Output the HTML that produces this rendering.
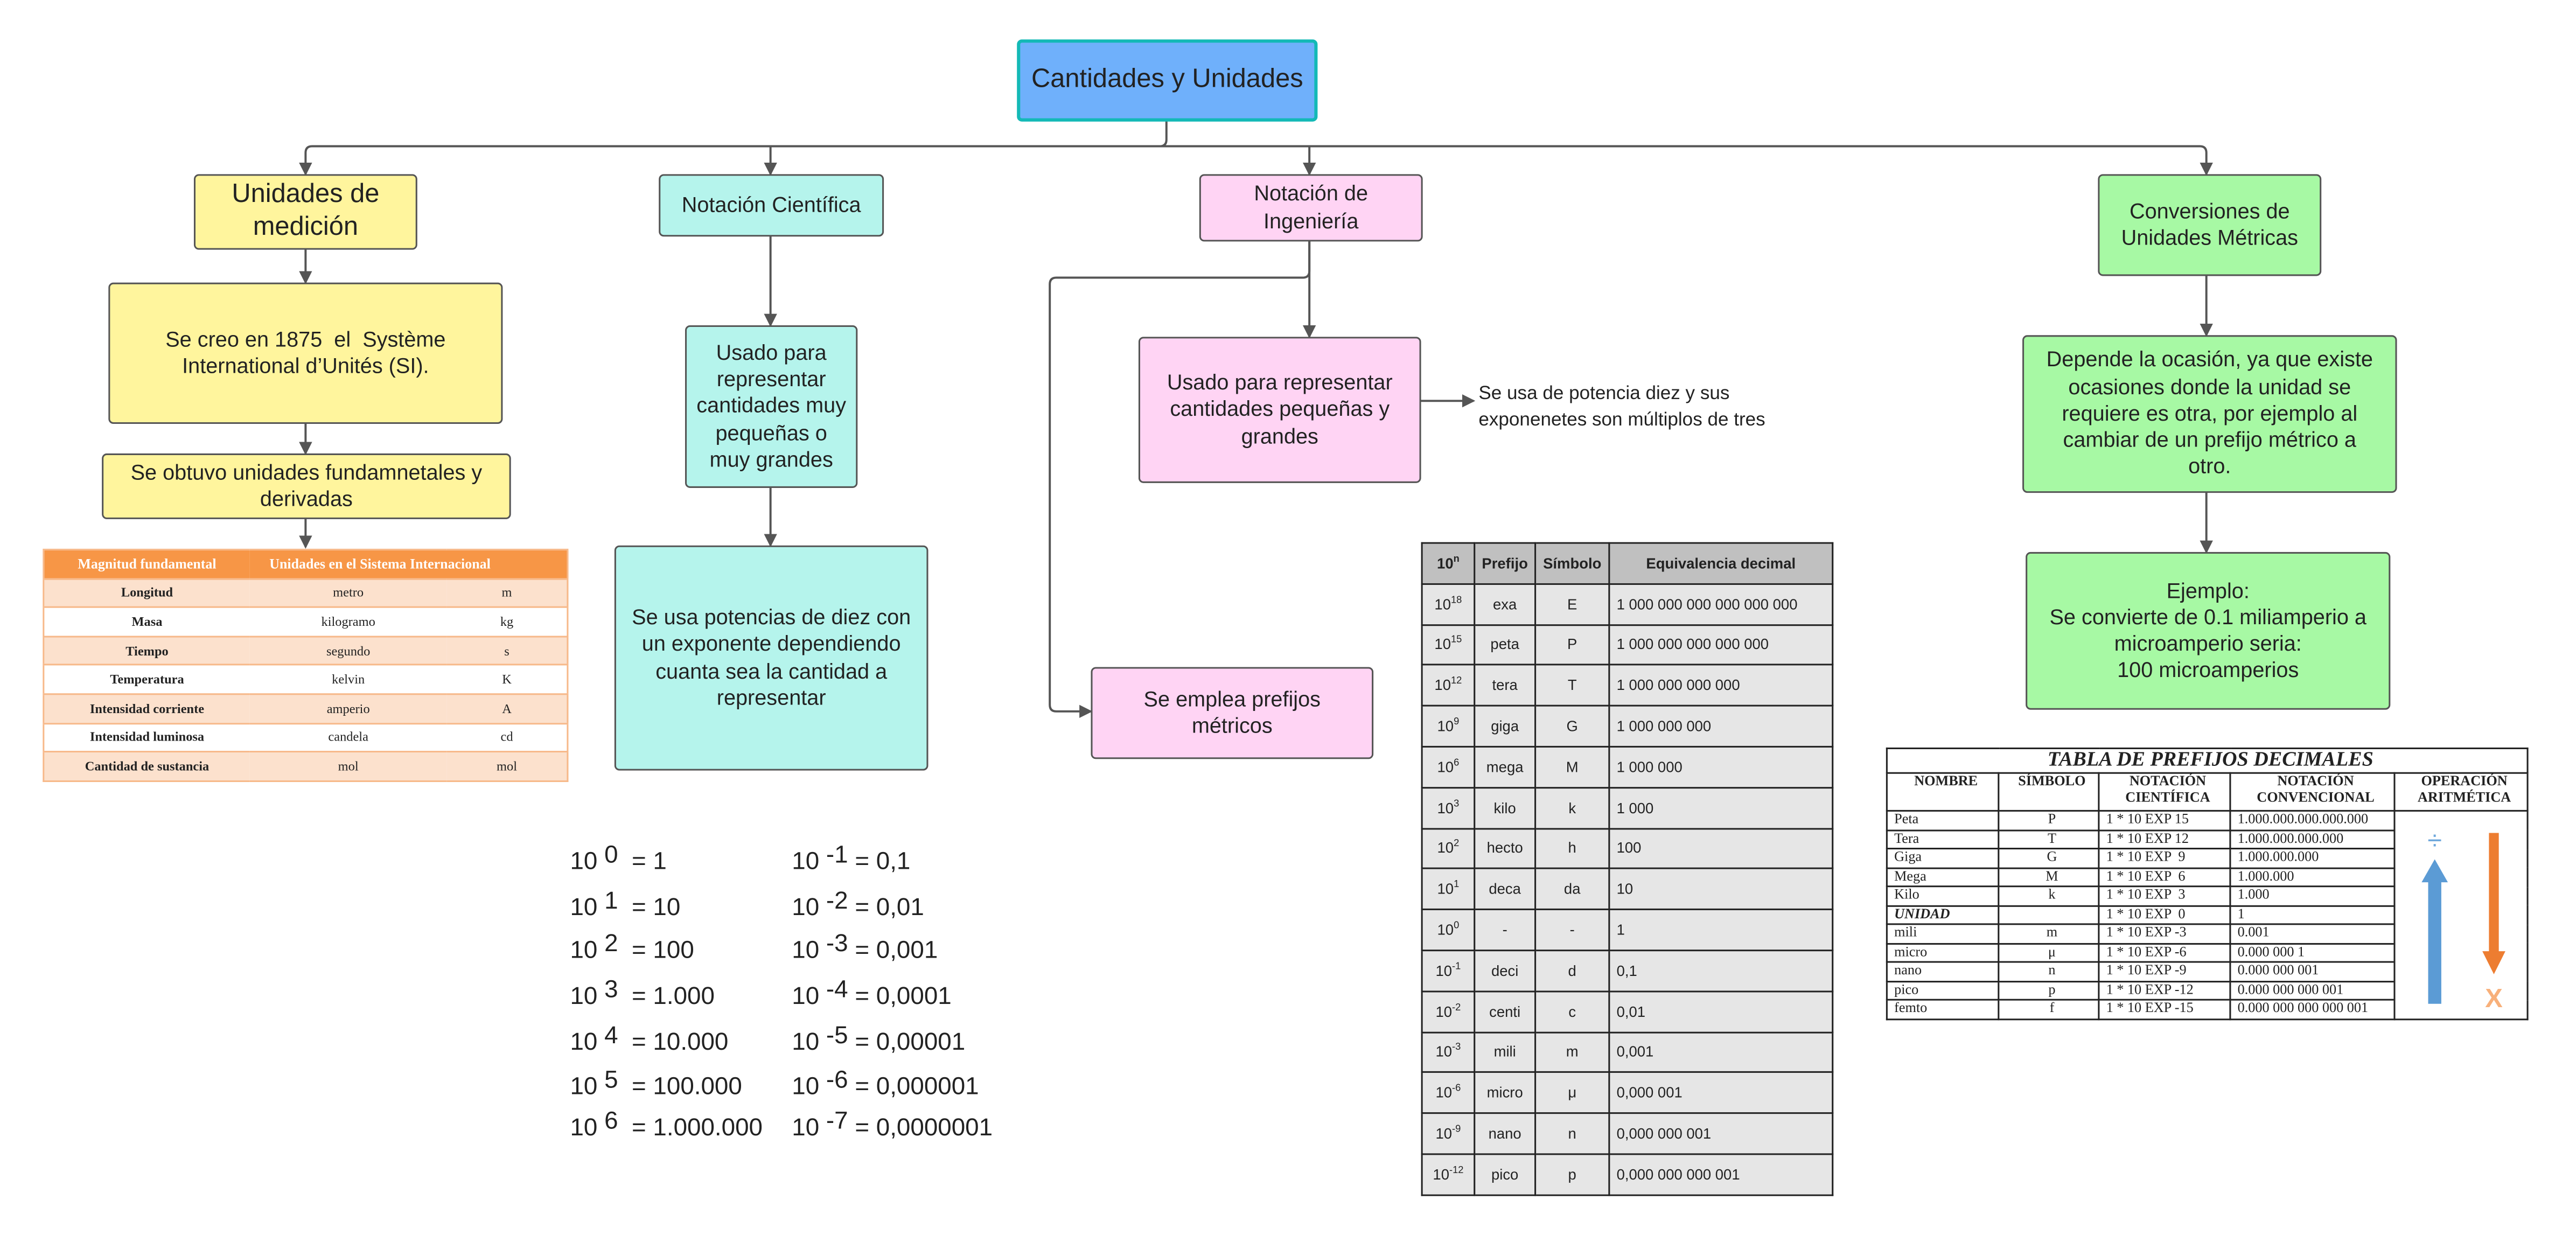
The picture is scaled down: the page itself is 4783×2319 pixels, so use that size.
<!DOCTYPE html>
<html><head><meta charset="utf-8">
<style>
html,body{margin:0;padding:0;background:#fff;}
body{width:4783px;height:2319px;overflow:hidden;position:relative;}
#s{position:absolute;left:0;top:0;width:1568px;height:760px;transform:scale(3.0504);transform-origin:0 0;font-family:"Liberation Sans",sans-serif;color:#222;}
.b{position:absolute;box-sizing:border-box;border:1.5px solid #555;border-radius:3px;display:flex;align-items:center;justify-content:center;text-align:center;line-height:1.25;}
.y{background:#fff59d}.c{background:#b5f4ec}.p{background:#ffd4f4}.g{background:#a7f9a4}
.t{position:absolute;white-space:nowrap;}
table{border-collapse:collapse;position:absolute;}
.or td{font-family:"Liberation Serif",serif;font-size:8px;text-align:center;padding:0;height:16.6px;border-top:1px solid #f7b98a;}
.gr td{font-size:9px;border:1px solid #222;text-align:center;padding:0;height:23.8px;background:#e6e6e6;}
.gr td.l{text-align:left;padding-left:4px;}
.pr td{font-family:"Liberation Serif",serif;font-size:8.6px;border:1px solid #222;padding:0 0 0 4px;height:10.5px;line-height:9.6px;}
.pw{position:absolute;font-size:15px;white-space:nowrap;}
.pw sup{font-size:15px;position:relative;top:-4px;vertical-align:baseline;}
</style></head><body><div id="s">
<svg width="1568" height="760" style="position:absolute;left:0;top:0">
<defs><marker id="a" markerWidth="8" markerHeight="8" refX="7" refY="4" orient="auto" markerUnits="userSpaceOnUse"><path d="M0,0L8,4L0,8z" fill="#555"/></marker></defs>
<g stroke="#555" stroke-width="1.3" fill="none">
<path d="M710,73V85Q710,89 706,89H190Q186,89 186,93V106" marker-end="url(#a)"/>
<path d="M706,89H1339Q1343,89 1343,93V106" marker-end="url(#a)"/>
<path d="M469,89V106" marker-end="url(#a)"/>
<path d="M797,89V106" marker-end="url(#a)"/>
<path d="M186,151V172" marker-end="url(#a)"/>
<path d="M186,257V276" marker-end="url(#a)"/>
<path d="M186,315V333" marker-end="url(#a)"/>
<path d="M469,143V198" marker-end="url(#a)"/>
<path d="M469,296V332" marker-end="url(#a)"/>
<path d="M797,146V205" marker-end="url(#a)"/>
<path d="M797,146V165Q797,169 793,169H643Q639,169 639,173V429Q639,433 643,433H664" marker-end="url(#a)"/>
<path d="M864,244H897" marker-end="url(#a)"/>
<path d="M1343,167V204" marker-end="url(#a)"/>
<path d="M1343,299V336" marker-end="url(#a)"/>
</g></svg>
<div class="b" style="left:619px;top:24px;width:183px;height:50px;background:#6fb0fb;border:2px solid #13b9b6;font-size:16px">Cantidades y Unidades</div>
<div class="b y" style="left:118px;top:106px;width:136px;height:46px;font-size:16px">Unidades de<br>medición</div>
<div class="b c" style="left:401px;top:106px;width:137px;height:38px;font-size:13px">Notación Científica</div>
<div class="b p" style="left:730px;top:106px;width:136px;height:41px;font-size:13px">Notación de<br>Ingeniería</div>
<div class="b g" style="left:1277px;top:106px;width:136px;height:62px;font-size:13px">Conversiones de<br>Unidades Métricas</div>
<div class="b y" style="left:66px;top:172px;width:240px;height:86px;font-size:13px">Se creo en 1875 &nbsp;el &nbsp;Système<br>International d’Unités (SI).</div>
<div class="b y" style="left:62px;top:276px;width:249px;height:40px;font-size:13px">Se obtuvo unidades fundamnetales y<br>derivadas</div>
<div class="b c" style="left:417px;top:198px;width:105px;height:99px;font-size:13px">Usado para<br>representar<br>cantidades muy<br>pequeñas o<br>muy grandes</div>
<div class="b c" style="left:374px;top:332px;width:191px;height:137px;font-size:13px">Se usa potencias de diez con<br>un exponente dependiendo<br>cuanta sea la cantidad a<br>representar</div>
<div class="b p" style="left:693px;top:205px;width:172px;height:89px;font-size:13px">Usado para representar<br>cantidades pequeñas y<br>grandes</div>
<div class="t" style="left:900px;top:233px;font-size:11.5px;line-height:15.5px">Se usa de potencia diez y sus<br>exponenetes son múltiplos de tres</div>
<div class="b p" style="left:664px;top:406px;width:172px;height:56px;font-size:13px">Se emplea prefijos<br>métricos</div>
<div class="b g" style="left:1231px;top:204px;width:228px;height:96px;font-size:13px">Depende la ocasión, ya que existe<br>ocasiones donde la unidad se<br>requiere es otra, por ejemplo al<br>cambiar de un prefijo métrico a<br>otro.</div>
<div class="b g" style="left:1233px;top:336px;width:222px;height:96px;font-size:13px">Ejemplo:<br>Se convierte de 0.1 miliamperio a<br>microamperio seria:<br>100 microamperios</div>

<table class="or" style="left:26px;top:334px;width:320px;border:1px solid #f7b98a">
<tr style="background:#f79646;color:#fff;font-weight:bold"><td style="height:16px;width:125px;font-size:8.5px">Magnitud fundamental</td><td colspan="2" style="text-align:left;padding-left:12px;font-size:8.5px">Unidades en el Sistema Internacional</td></tr>
<tr style="background:#fce1cd"><td><b>Longitud</b></td><td style="width:120px">metro</td><td>m</td></tr>
<tr><td><b>Masa</b></td><td>kilogramo</td><td>kg</td></tr>
<tr style="background:#fce1cd"><td><b>Tiempo</b></td><td>segundo</td><td>s</td></tr>
<tr><td><b>Temperatura</b></td><td>kelvin</td><td>K</td></tr>
<tr style="background:#fce1cd"><td><b>Intensidad corriente</b></td><td>amperio</td><td>A</td></tr>
<tr><td><b>Intensidad luminosa</b></td><td>candela</td><td>cd</td></tr>
<tr style="background:#fce1cd"><td><b>Cantidad de sustancia</b></td><td>mol</td><td>mol</td></tr>
</table>

<table class="gr" style="left:865px;top:330px;width:251px;border:1.5px solid #222">
<tr style="font-weight:bold"><td style="width:31px;background:#c0c0c0">10<sup style="font-size:6px">n</sup></td><td style="width:36px;background:#c0c0c0">Prefijo</td><td style="width:44px;background:#c0c0c0">Símbolo</td><td style="background:#c0c0c0">Equivalencia decimal</td></tr>
<tr><td>10<sup style="font-size:6px">18</sup></td><td>exa</td><td>E</td><td class="l">1 000 000 000 000 000 000</td></tr>
<tr><td>10<sup style="font-size:6px">15</sup></td><td>peta</td><td>P</td><td class="l">1 000 000 000 000 000</td></tr>
<tr><td>10<sup style="font-size:6px">12</sup></td><td>tera</td><td>T</td><td class="l">1 000 000 000 000</td></tr>
<tr><td>10<sup style="font-size:6px">9</sup></td><td>giga</td><td>G</td><td class="l">1 000 000 000</td></tr>
<tr><td>10<sup style="font-size:6px">6</sup></td><td>mega</td><td>M</td><td class="l">1 000 000</td></tr>
<tr><td>10<sup style="font-size:6px">3</sup></td><td>kilo</td><td>k</td><td class="l">1 000</td></tr>
<tr><td>10<sup style="font-size:6px">2</sup></td><td>hecto</td><td>h</td><td class="l">100</td></tr>
<tr><td>10<sup style="font-size:6px">1</sup></td><td>deca</td><td>da</td><td class="l">10</td></tr>
<tr><td>10<sup style="font-size:6px">0</sup></td><td>-</td><td>-</td><td class="l">1</td></tr>
<tr><td>10<sup style="font-size:6px">-1</sup></td><td>deci</td><td>d</td><td class="l">0,1</td></tr>
<tr><td>10<sup style="font-size:6px">-2</sup></td><td>centi</td><td>c</td><td class="l">0,01</td></tr>
<tr><td>10<sup style="font-size:6px">-3</sup></td><td>mili</td><td>m</td><td class="l">0,001</td></tr>
<tr><td>10<sup style="font-size:6px">-6</sup></td><td>micro</td><td>μ</td><td class="l">0,000 001</td></tr>
<tr><td>10<sup style="font-size:6px">-9</sup></td><td>nano</td><td>n</td><td class="l">0,000 000 001</td></tr>
<tr><td>10<sup style="font-size:6px">-12</sup></td><td>pico</td><td>p</td><td class="l">0,000 000 000 001</td></tr>
</table>

<table class="pr" style="left:1148px;top:455px;width:391px;border:1px solid #222">
<tr><td colspan="5" style="text-align:center;font-style:italic;font-weight:bold;font-size:12.5px;height:14px">TABLA DE PREFIJOS DECIMALES</td></tr>
<tr style="font-weight:bold;text-align:center;vertical-align:top"><td style="width:63px;text-align:center;height:22px">NOMBRE</td><td style="width:56px;text-align:center">SÍMBOLO</td><td style="width:75px;text-align:center">NOTACIÓN<br>CIENTÍFICA</td><td style="width:95px;text-align:center">NOTACIÓN<br>CONVENCIONAL</td><td style="text-align:center">OPERACIÓN<br>ARITMÉTICA</td></tr>
<tr><td>Peta</td><td style="text-align:center">P</td><td>1 * 10 EXP 15</td><td>1.000.000.000.000.000</td><td rowspan="11" style="position:relative;padding:0">
<svg width="80" height="124" style="display:block"><text x="24" y="22" font-size="16" fill="#6fa8dc" text-anchor="middle" font-family="Liberation Sans">÷</text><path d="M20,116V42H16L24,28L32,42H28V116Z" fill="#5b9bd5"/><path d="M57,12H63V84H67L60,98L53,84H57Z" fill="#ed7d31"/><text x="60" y="118" font-size="16" fill="#f8b07a" text-anchor="middle" font-family="Liberation Sans" font-weight="bold">X</text></svg></td></tr>
<tr><td>Tera</td><td style="text-align:center">T</td><td>1 * 10 EXP 12</td><td>1.000.000.000.000</td></tr>
<tr><td>Giga</td><td style="text-align:center">G</td><td>1 * 10 EXP &nbsp;9</td><td>1.000.000.000</td></tr>
<tr><td>Mega</td><td style="text-align:center">M</td><td>1 * 10 EXP &nbsp;6</td><td>1.000.000</td></tr>
<tr><td>Kilo</td><td style="text-align:center">k</td><td>1 * 10 EXP &nbsp;3</td><td>1.000</td></tr>
<tr><td><b><i>UNIDAD</i></b></td><td></td><td>1 * 10 EXP &nbsp;0</td><td>1</td></tr>
<tr><td>mili</td><td style="text-align:center">m</td><td>1 * 10 EXP -3</td><td>0.001</td></tr>
<tr><td>micro</td><td style="text-align:center">μ</td><td>1 * 10 EXP -6</td><td>0.000 000 1</td></tr>
<tr><td>nano</td><td style="text-align:center">n</td><td>1 * 10 EXP -9</td><td>0.000 000 001</td></tr>
<tr><td>pico</td><td style="text-align:center">p</td><td>1 * 10 EXP -12</td><td>0.000 000 000 001</td></tr>
<tr><td>femto</td><td style="text-align:center">f</td><td>1 * 10 EXP -15</td><td>0.000 000 000 000 001</td></tr>
</table>

<div class="pw" style="left:347px;top:516px">10 <sup>0</sup>&nbsp; = 1</div>
<div class="pw" style="left:347px;top:544px">10 <sup>1</sup>&nbsp; = 10</div>
<div class="pw" style="left:347px;top:570px">10 <sup>2</sup>&nbsp; = 100</div>
<div class="pw" style="left:347px;top:598px">10 <sup>3</sup>&nbsp; = 1.000</div>
<div class="pw" style="left:347px;top:626px">10 <sup>4</sup>&nbsp; = 10.000</div>
<div class="pw" style="left:347px;top:653px">10 <sup>5</sup>&nbsp; = 100.000</div>
<div class="pw" style="left:347px;top:678px">10 <sup>6</sup>&nbsp; = 1.000.000</div>
<div class="pw" style="left:482px;top:516px">10 <sup>-1</sup> = 0,1</div>
<div class="pw" style="left:482px;top:544px">10 <sup>-2</sup> = 0,01</div>
<div class="pw" style="left:482px;top:570px">10 <sup>-3</sup> = 0,001</div>
<div class="pw" style="left:482px;top:598px">10 <sup>-4</sup> = 0,0001</div>
<div class="pw" style="left:482px;top:626px">10 <sup>-5</sup> = 0,00001</div>
<div class="pw" style="left:482px;top:653px">10 <sup>-6</sup> = 0,000001</div>
<div class="pw" style="left:482px;top:678px">10 <sup>-7</sup> = 0,0000001</div>
</div></body></html>
